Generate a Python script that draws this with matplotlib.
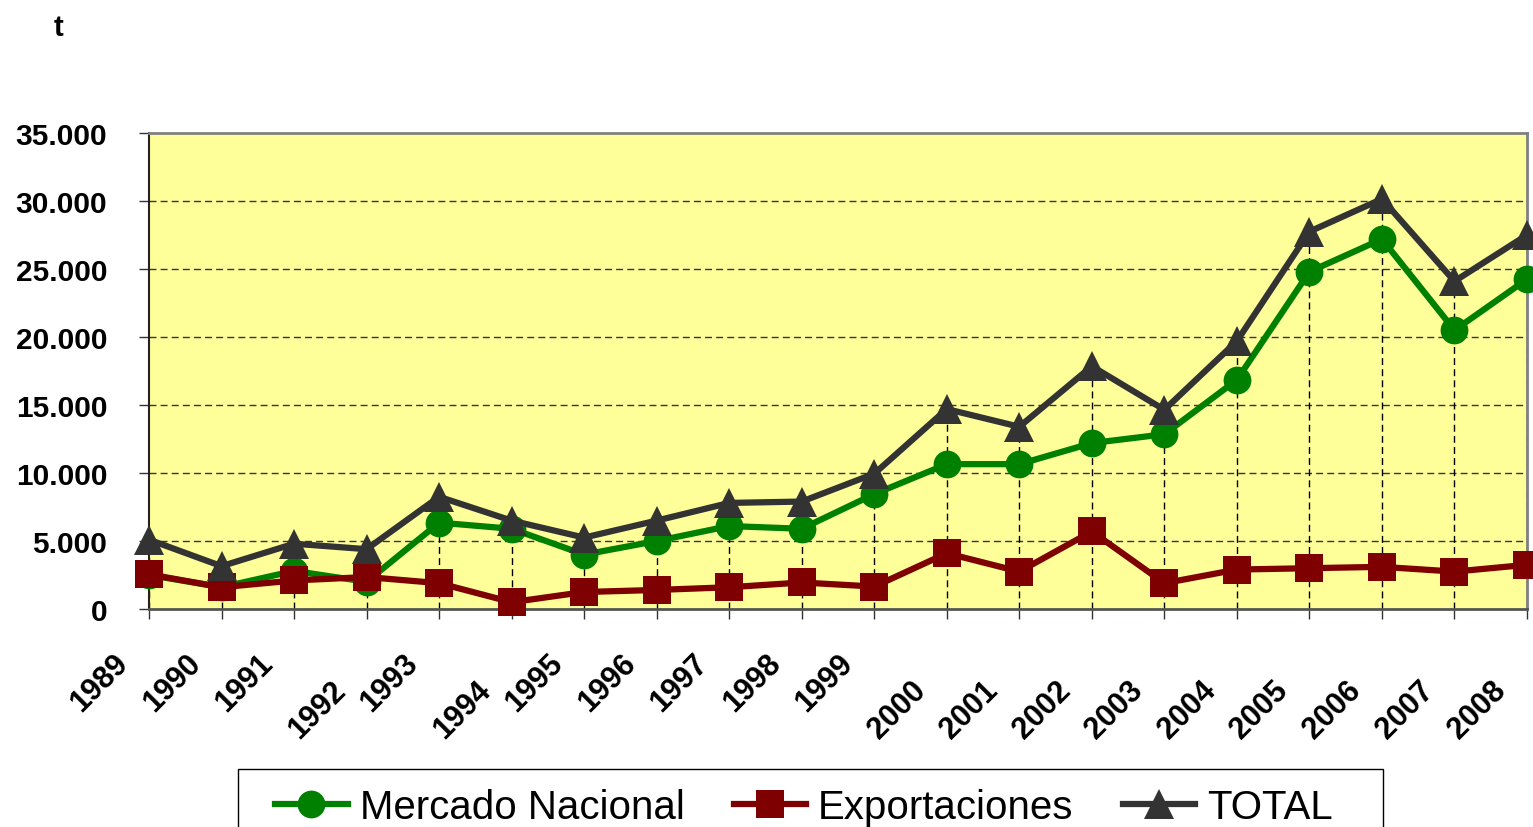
import matplotlib
matplotlib.use("Agg")
import matplotlib.pyplot as plt
from matplotlib.patches import Rectangle
from matplotlib.ticker import FuncFormatter
from matplotlib.transforms import offset_copy

YEARS = [1989, 1990, 1991, 1992, 1993, 1994, 1995, 1996, 1997, 1998,
         1999, 2000, 2001, 2002, 2003, 2004, 2005, 2006, 2007, 2008]
MERCADO_NACIONAL = [2500, 1600, 2800, 2000, 6350, 5900, 4000, 5000, 6100, 5900,
                    8450, 10650, 10650, 12200, 12850, 16850, 24800, 27200, 20500, 24250]
EXPORTACIONES = [2550, 1600, 2100, 2350, 1900, 500, 1250, 1400, 1600, 1950,
                 1650, 4100, 2750, 5700, 1900, 2900, 3000, 3100, 2750, 3250]
TOTAL = [5100, 3150, 4800, 4400, 8250, 6500, 5250, 6500, 7800, 7900,
         9950, 14700, 13400, 17850, 14650, 19700, 27750, 30150, 24100, 27500]
SERIES_NAMES = ["Mercado Nacional", "Exportaciones", "TOTAL"]

# labels that Excel pushed down a row
LOW_LABELS = {1992, 1994, 2000, 2001, 2002, 2003, 2004, 2005, 2006, 2007, 2008}

plt.rcParams["font.family"] = ["Liberation Sans", "DejaVu Sans"]


def thousands(v, _pos):
    return f"{v:,.0f}".replace(",", ".")


def main():
    fig = plt.figure(figsize=(15.33, 8.28), dpi=100)
    W, H = 1533, 828
    ax = fig.add_axes([149 / W, (H - 610) / H, (1527 - 149) / W, (610 - 134) / H])
    ax.set_facecolor("#FFFF99")

    ax.set_xlim(YEARS[0], YEARS[-1])
    ax.set_ylim(0, 35000)
    ax.set_yticks(range(0, 35001, 5000))
    ax.yaxis.set_major_formatter(FuncFormatter(thousands))

    grid_style = dict(color="#333333", linewidth=1.0, linestyle=(0, (5, 3)))
    for y in range(5000, 35000, 5000):
        ax.axhline(y, zorder=1, **grid_style)
    ax.vlines(YEARS, 0, TOTAL, colors="black", linewidth=1.0,
              linestyles=[(0, (5, 3))], zorder=1)

    styles = [
        dict(color="#008000", marker="o", markersize=20),
        dict(color="#7F0000", marker="s", markersize=20),
        dict(color="#333333", marker="^", markersize=22),
    ]
    for values, name, st in zip([MERCADO_NACIONAL, EXPORTACIONES, TOTAL], SERIES_NAMES, styles):
        ax.plot(YEARS, values, label=name, linewidth=4.5, clip_on=False, zorder=3,
                markeredgewidth=0, **st)

    for side in ["top", "right"]:
        ax.spines[side].set_color("#808080")
        ax.spines[side].set_linewidth(2)
    ax.spines["left"].set_color("#222222")
    ax.spines["left"].set_linewidth(1.5)
    ax.spines["bottom"].set_color("#555555")
    ax.spines["bottom"].set_linewidth(2)

    ax.tick_params(axis="y", direction="out", length=7, width=1, color="#333333",
                   pad=23, labelsize=21.5)
    for lab in ax.get_yticklabels():
        lab.set_fontweight("bold")
    ax.set_xticks(YEARS)
    ax.set_xticklabels([])
    ax.tick_params(axis="x", direction="out", length=7, width=1, color="#333333")

    for year in YEARS:
        dy = 66 if year in LOW_LABELS else 39
        tr = offset_copy(ax.transData, fig=fig, x=-15, y=-dy, units="dots")
        ax.text(year, 0, str(year), transform=tr, rotation=45, ha="right", va="top",
                fontsize=22, fontweight="bold", clip_on=False)

    fig.text(58 / W, 1 - 28 / H, "t", ha="center", va="center", fontsize=21, fontweight="bold")

    # legend box runs off the bottom of the image, as in the original
    box = Rectangle((238 / W, -0.1), 1145 / W, (H - 770) / H + 0.1,
                    transform=fig.transFigure, facecolor="white", edgecolor="black",
                    linewidth=1.0, zorder=1)
    fig.add_artist(box)
    fig.legend(loc="upper left", bbox_to_anchor=(275 / W, 1 - 789 / H, (1333 - 275) / W, 0),
               bbox_transform=fig.transFigure, mode="expand", ncol=3,
               fontsize=29, handlelength=1.8, handletextpad=0.3, borderpad=0,
               borderaxespad=0, frameon=False)

    fig.savefig("out.png", dpi=100)
    plt.close(fig)


if __name__ == "__main__":
    main()
